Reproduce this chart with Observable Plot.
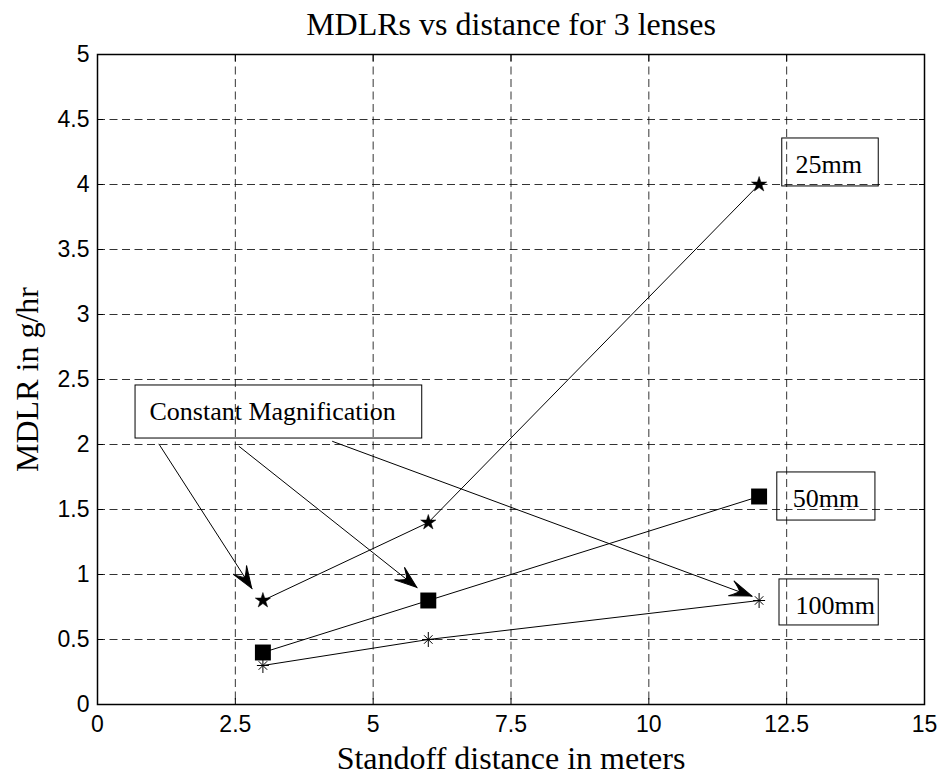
<!DOCTYPE html>
<html>
<head>
<meta charset="utf-8">
<script src="https://cdn.jsdelivr.net/npm/d3@7"></script>
<script src="https://cdn.jsdelivr.net/npm/@observablehq/plot@0.6"></script>
<style>
  html, body { margin: 0; padding: 0; background: #fff; }
  #chart { width: 939px; height: 779px; }
</style>
</head>
<body>
<div id="chart"></div>
<script>
// ---- data ----
const titleText = "MDLRs vs distance for 3 lenses";
const xLabel = "Standoff distance in meters";
const yLabel = "MDLR in g/hr";

const xTicks = [0, 2.5, 5, 7.5, 10, 12.5, 15];
const xTickLabels = ["0", "2.5", "5", "7.5", "10", "12.5", "15"];
const yTicks = [0, 0.5, 1, 1.5, 2, 2.5, 3, 3.5, 4, 4.5, 5];
const yTickLabels = ["0", "0.5", "1", "1.5", "2", "2.5", "3", "3.5", "4", "4.5", "5"];

const distances = [3, 6, 12];
const mdlr25 = [0.8, 1.4, 4.0];
const mdlr50 = [0.4, 0.8, 1.6];
const mdlr100 = [0.3, 0.5, 0.8];

// annotation boxes (data units)
const noteText = ["Constant Magnification", "25mm", "50mm", "100mm"];
const noteBoxX1 = [0.69, 12.42, 12.33, 12.37];
const noteBoxX2 = [5.89, 14.17, 14.11, 14.17];
const noteBoxY1 = [2.046, 3.985, 1.415, 0.608];
const noteBoxY2 = [2.454, 4.354, 1.785, 0.962];
const noteTextX = [0.943, 12.66, 12.61, 12.66];
const noteTextY = [2.19, 4.09, 1.523, 0.70];

// arrows from "Constant Magnification" (data units)
const arrowStartX = [1.112, 2.563, 4.257];
const arrowStartY = [2.005, 1.987, 2.025];
const arrowEndX = [2.806, 5.799, 11.875];
const arrowEndY = [0.89, 0.898, 0.831];

// ---- tables ----
const s25 = distances.map((d, i) => ({x: d, y: mdlr25[i]}));
const s50 = distances.map((d, i) => ({x: d, y: mdlr50[i]}));
const s100 = distances.map((d, i) => ({x: d, y: mdlr100[i]}));
const notes = noteText.map((t, i) => ({t, x1: noteBoxX1[i], x2: noteBoxX2[i], y1: noteBoxY1[i], y2: noteBoxY2[i], tx: noteTextX[i], ty: noteTextY[i]}));
const arrows = arrowStartX.map((_, i) => ({x1: arrowStartX[i], y1: arrowStartY[i], x2: arrowEndX[i], y2: arrowEndY[i]}));

const serif = "'Liberation Serif', 'Times New Roman', serif";
const sans = "'Liberation Sans', Arial, sans-serif";

const asterisk = {
  draw(ctx, size) {
    const r = Math.sqrt(size / Math.PI);
    for (let k = 0; k < 4; k++) {
      const a = k * Math.PI / 4;
      const rr = (k === 2) ? r * 1.25 : r;
      const dx = rr * Math.cos(a), dy = rr * Math.sin(a);
      ctx.moveTo(-dx, -dy);
      ctx.lineTo(dx, dy);
    }
  }
};

function arrowHeads(index, scales) {
  const g = d3.create("svg:g").attr("fill", "black").attr("stroke", "black").attr("stroke-width", 1);
  arrows.forEach(a => {
    const x1 = scales.x(a.x1), y1 = scales.y(a.y1);
    const x2 = scales.x(a.x2), y2 = scales.y(a.y2);
    const ang = Math.atan2(y2 - y1, x2 - x1) * 180 / Math.PI;
    g.append("path")
      .attr("d", "M0,0 L-22,-8 Q-15,-3 -13,0 Q-15,3 -22,8 Z")
      .attr("transform", `translate(${x2},${y2}) rotate(${ang})`);
  });
  return g.node();
}

const xFmt = d => xTickLabels[xTicks.indexOf(d)];
const yFmt = d => yTickLabels[yTicks.indexOf(d)];

const chart = Plot.plot({
  width: 939,
  height: 779,
  marginTop: 54,
  marginBottom: 75,
  marginLeft: 97,
  marginRight: 15,
  x: {domain: [0, 15]},
  y: {domain: [0, 5]},
  style: {background: "white", color: "black"},
  marks: [
    Plot.gridX(xTicks, {stroke: "#000", strokeOpacity: 0.8, strokeDasharray: "8,4.5"}),
    Plot.gridY(yTicks, {stroke: "#000", strokeOpacity: 0.8, strokeDasharray: "8,4.5"}),
    // inward ticks
    Plot.axisX(xTicks, {anchor: "bottom", tickSize: -6, tickFormat: () => "", label: null}),
    Plot.axisX(xTicks, {anchor: "top", tickSize: -6, tickFormat: () => "", label: null}),
    Plot.axisY(yTicks, {anchor: "left", tickSize: -6, tickFormat: () => "", label: null}),
    Plot.axisY(yTicks, {anchor: "right", tickSize: -6, tickFormat: () => "", label: null}),
    // tick labels
    Plot.axisX(xTicks, {anchor: "bottom", tickSize: 0, tickPadding: 11, tickFormat: xFmt, label: null, fontSize: 23, fontFamily: sans}),
    Plot.axisY(yTicks, {anchor: "left", tickSize: 0, tickPadding: 8, tickFormat: yFmt, label: null, fontSize: 23, fontFamily: sans}),
    Plot.frame({stroke: "black", strokeWidth: 1.5}),
    // series lines
    Plot.line(s25, {x: "x", y: "y", stroke: "black", strokeWidth: 1}),
    Plot.line(s50, {x: "x", y: "y", stroke: "black", strokeWidth: 1}),
    Plot.line(s100, {x: "x", y: "y", stroke: "black", strokeWidth: 1}),
    // annotation arrows
    Plot.link(arrows, {x1: "x1", y1: "y1", x2: "x2", y2: "y2", stroke: "black", strokeWidth: 1}),
    arrowHeads,
    // annotation boxes
    Plot.rect(notes, {x1: "x1", x2: "x2", y1: "y1", y2: "y2", fill: "none", stroke: "black", strokeWidth: 1}),
    Plot.text(notes, {x: "tx", y: "ty", text: "t", textAnchor: "start", lineAnchor: "bottom", fontSize: 26, fontFamily: serif, fill: "black"}),
    // markers
    Plot.dot(s25, {x: "x", y: "y", symbol: "star", r: 4.8, fill: "black", stroke: "black", strokeWidth: 0.5}),
    Plot.dot(s50, {x: "x", y: "y", symbol: "square", r: 9, fill: "black"}),
    Plot.dot(s100, {x: "x", y: "y", symbol: asterisk, r: 6, fill: "none", stroke: "black", strokeWidth: 1}),
    // titles
    Plot.text([titleText], {frameAnchor: "top", textAnchor: "middle", lineAnchor: "bottom", dy: -20, text: d => d, fontSize: 32, fontFamily: serif, fill: "black"}),
    Plot.text([xLabel], {frameAnchor: "bottom", textAnchor: "middle", lineAnchor: "bottom", dy: 64, text: d => d, fontSize: 32, fontFamily: serif, fill: "black"}),
    Plot.text([yLabel], {frameAnchor: "left", textAnchor: "middle", lineAnchor: "bottom", rotate: -90, dx: -60, text: d => d, fontSize: 32, fontFamily: serif, fill: "black"})
  ]
});
document.getElementById("chart").appendChild(chart);
</script>
</body>
</html>
